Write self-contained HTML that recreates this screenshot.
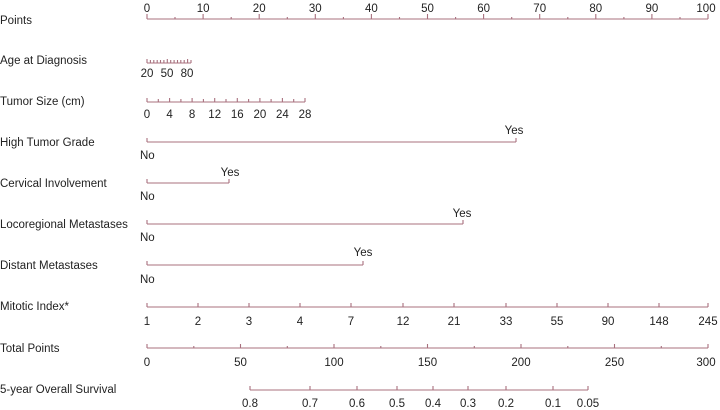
<!DOCTYPE html>
<html><head><meta charset="utf-8"><style>
html,body{margin:0;padding:0;background:#fff;}
svg{display:block;}
text{font-family:"Liberation Sans",Arial,sans-serif;font-size:11.5px;fill:#222;}
</style></head><body>
<svg width="720" height="410" viewBox="0 0 720 410" xmlns="http://www.w3.org/2000/svg">
<g stroke="#a8707e" stroke-width="1.1" fill="none">
<path d="M147 19H708"/>
<path d="M147 19v-5M203.1 19v-5M259.2 19v-5M315.3 19v-5M371.4 19v-5M427.5 19v-5M483.6 19v-5M539.7 19v-5M595.8 19v-5M651.9 19v-5M708 19v-5"/>
<path d="M175 19v-2M231.2 19v-2M287.3 19v-2M343.4 19v-2M399.5 19v-2M455.6 19v-2M511.7 19v-2M567.8 19v-2M623.9 19v-2M680 19v-2"/>
<path d="M147 63H191"/>
<path d="M147 63v-4M150.4 63v-3M153.8 63v-3M157.2 63v-3M160.5 63v-3M163.9 63v-3M167.3 63v-4M170.7 63v-3M174.1 63v-3M177.5 63v-3M180.8 63v-3M184.2 63v-3M187.6 63v-4M191 63v-3"/>
<path d="M147 102H305"/>
<path d="M147 102v-4M158.3 102v-3M169.6 102v-4M180.9 102v-3M192.1 102v-4M203.4 102v-3M214.7 102v-4M226 102v-3M237.3 102v-4M248.6 102v-3M259.9 102v-4M271.1 102v-3M282.4 102v-4M293.7 102v-3M305 102v-4"/>
<path d="M147 142H516M147 142v-4M516 142v-4"/>
<path d="M147 183H229M147 183v-4M229 183v-4"/>
<path d="M147 224H463M147 224v-4M463 224v-4"/>
<path d="M147 265H363M147 265v-4M363 265v-4"/>
<path d="M147 307H708"/>
<path d="M147 307v-4M198 307v-4M249 307v-4M300 307v-4M351 307v-4M403 307v-4M454 307v-4M506 307v-4M557 307v-4M608 307v-4M659 307v-4M708 307v-4"/>
<path d="M147 348H708"/>
<path d="M147 348v-4M240.5 348v-4M334 348v-4M427.5 348v-4M521 348v-4M614.5 348v-4M708 348v-4"/>
<path d="M193.8 348v-2M287.3 348v-2M380.8 348v-2M474.3 348v-2M567.8 348v-2M661.3 348v-2"/>
<path d="M250 390H588"/>
<path d="M250 390v-4M310 390v-4M357 390v-4M397 390v-4M433 390v-4M468 390v-4M506 390v-4M553 390v-4M588 390v-4"/>
</g>
<g>
<text x="0" y="24">Points</text>
<text x="0" y="64">Age at Diagnosis</text>
<text x="0" y="105">Tumor Size (cm)</text>
<text x="0" y="146">High Tumor Grade</text>
<text x="0" y="187">Cervical Involvement</text>
<text x="0" y="228">Locoregional Metastases</text>
<text x="0" y="269">Distant Metastases</text>
<text x="0" y="310">Mitotic Index*</text>
<text x="0" y="352">Total Points</text>
<text x="0" y="393">5-year Overall Survival</text>
</g>
<g text-anchor="middle">
<text x="147" y="12">0</text><text x="203.1" y="12">10</text><text x="259.2" y="12">20</text><text x="315.3" y="12">30</text><text x="371.4" y="12">40</text><text x="427.5" y="12">50</text><text x="483.6" y="12">60</text><text x="539.7" y="12">70</text><text x="595.8" y="12">80</text><text x="651.9" y="12">90</text><text x="706" y="12">100</text>
<text x="147" y="77">20</text><text x="167" y="77">50</text><text x="187" y="77">80</text>
<text x="147" y="118">0</text><text x="169.6" y="118">4</text><text x="192.1" y="118">8</text><text x="214.7" y="118">12</text><text x="237.3" y="118">16</text><text x="259.9" y="118">20</text><text x="282.4" y="118">24</text><text x="305" y="118">28</text>
<text x="147" y="325">1</text><text x="198" y="325">2</text><text x="249" y="325">3</text><text x="300" y="325">4</text><text x="351" y="325">7</text><text x="403" y="325">12</text><text x="454" y="325">21</text><text x="506" y="325">33</text><text x="557" y="325">55</text><text x="608" y="325">90</text><text x="659" y="325">148</text><text x="708" y="325">245</text>
<text x="147" y="366">0</text><text x="240.5" y="366">50</text><text x="334" y="366">100</text><text x="427.5" y="366">150</text><text x="521" y="366">200</text><text x="614.5" y="366">250</text><text x="706" y="366">300</text>
<text x="250" y="407">0.8</text><text x="310" y="407">0.7</text><text x="357" y="407">0.6</text><text x="397" y="407">0.5</text><text x="433" y="407">0.4</text><text x="468" y="407">0.3</text><text x="506" y="407">0.2</text><text x="553" y="407">0.1</text><text x="588" y="407">0.05</text>
<text x="514" y="134">Yes</text><text x="230" y="176">Yes</text><text x="462" y="217">Yes</text><text x="363" y="256">Yes</text>
</g>
<text x="140" y="159">No</text>
<text x="140" y="200">No</text>
<text x="140" y="241">No</text>
<text x="140" y="283">No</text>
</svg>
</body></html>
